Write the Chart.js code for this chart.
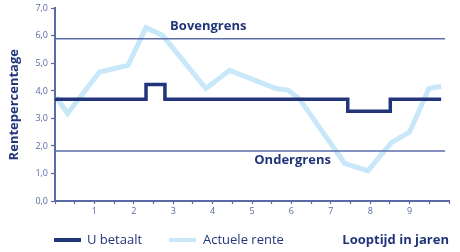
<!DOCTYPE html>
<html>
<head>
<meta charset="utf-8">
<script src="https://cdn.jsdelivr.net/npm/chart.js@4"></script>
<style>
  body { margin: 0; background: #fff; }
  #wrap { width: 460px; height: 252px; }
</style>
</head>
<body>
<div id="wrap"><canvas id="chart" width="460" height="252"></canvas></div>
<script>
// U betaalt (stepped): breakpoints and values
var paidX = [0, 2.31, 2.79, 7.43, 8.51, 9.8];
var paidY = [3.7, 4.23, 3.7, 3.26, 3.7, 3.7];

// Actuele rente
var rateX = [0.03, 0.32, 1.13, 1.85, 2.31, 2.73, 3.83, 4.43, 5.61, 5.91, 6.2, 7.35, 7.94, 8.53, 9.0, 9.49, 9.8];
var rateY = [3.78, 3.18, 4.69, 4.93, 6.30, 6.02, 4.09, 4.75, 4.09, 4.03, 3.72, 1.37, 1.10, 2.11, 2.51, 4.09, 4.17];

// grenzen
var upperLimit = 5.9;
var lowerLimit = 1.82;
var xLabels = ['1', '2', '3', '4', '5', '6', '7', '8', '9'];

var navy = '#22357a';
var lightBlue = '#c8e8fa';
var refColor = '#5d6dab';
var tickColor = '#5a6aa5';
var font = "'Open Sans', sans-serif";

function pts(xs, ys) {
    return xs.map(function (x, i) { return { x: x, y: ys[i] }; });
}

var labelsPlugin = {
    id: 'labels',
    afterDraw: function (chart) {
        var ctx = chart.ctx;
        var xs = chart.scales.x, ys = chart.scales.y;
        ctx.save();
        ctx.fillStyle = navy;
        ctx.font = 'bold 13px ' + font;
        ctx.textAlign = 'center';
        ctx.textBaseline = 'middle';
        ctx.fillText('Bovengrens', xs.getPixelForValue(3.89), ys.getPixelForValue(6.35));
        ctx.fillText('Ondergrens', xs.getPixelForValue(6.03), ys.getPixelForValue(1.49));

        // legend row
        var ly = 240;
        ctx.lineWidth = 4;
        ctx.strokeStyle = navy;
        ctx.beginPath(); ctx.moveTo(54, ly); ctx.lineTo(81, ly); ctx.stroke();
        ctx.strokeStyle = lightBlue;
        ctx.beginPath(); ctx.moveTo(169, ly); ctx.lineTo(196, ly); ctx.stroke();
        ctx.textAlign = 'left';
        ctx.font = '13px ' + font;
        ctx.fillText('U betaalt', 87, ly);
        ctx.fillText('Actuele rente', 203, ly);
        ctx.textAlign = 'right';
        ctx.font = 'bold 13px ' + font;
        ctx.fillText('Looptijd in jaren', 449, ly);
        ctx.restore();
    }
};

var ctx = document.getElementById('chart').getContext('2d');
new Chart(ctx, {
    type: 'line',
    data: {
        datasets: [
            {
                label: 'U betaalt',
                data: pts(paidX, paidY),
                stepped: 'before',
                borderColor: navy,
                borderWidth: 3.5,
                borderJoinStyle: 'miter',
                borderCapStyle: 'butt',
                pointRadius: 0,
                order: 0
            },
            {
                label: 'Bovengrens',
                data: pts([0, 9.9], [upperLimit, upperLimit]),
                borderColor: refColor,
                borderWidth: 1.5,
                pointRadius: 0,
                order: 1
            },
            {
                label: 'Ondergrens',
                data: pts([0, 9.9], [lowerLimit, lowerLimit]),
                borderColor: refColor,
                borderWidth: 1.5,
                pointRadius: 0,
                order: 1
            },
            {
                label: 'Actuele rente',
                data: pts(rateX, rateY),
                borderColor: lightBlue,
                borderWidth: 5,
                tension: 0,
                pointRadius: 0,
                order: 2
            }
        ]
    },
    options: {
        responsive: false,
        animation: false,
        layout: { padding: { top: 8, right: 11, bottom: 31, left: 0 } },
        plugins: { legend: { display: false }, tooltip: { enabled: false } },
        scales: {
            x: {
                type: 'linear',
                min: 0,
                max: 10,
                afterFit: function (s) { s.height = 20; },
                afterBuildTicks: function (s) {
                    var t = [];
                    for (var v = 0; v <= 10; v += 0.5) t.push({ value: v });
                    s.ticks = t;
                },
                grid: {
                    drawOnChartArea: false,
                    color: tickColor,
                    tickLength: 3,
                    tickWidth: 1.2
                },
                border: { color: tickColor, width: 2 },
                ticks: {
                    autoSkip: false,
                    maxRotation: 0,
                    padding: 2,
                    color: tickColor,
                    font: { family: font, size: 9 },
                    callback: function (v) {
                        return Number.isInteger(v) && v >= 1 && v <= 9 ? xLabels[v - 1] : '';
                    }
                }
            },
            y: {
                min: 0,
                max: 7,
                afterFit: function (s) { s.width = 55; },
                grid: {
                    drawOnChartArea: false,
                    color: tickColor,
                    tickLength: 4,
                    tickWidth: 1.2
                },
                border: { color: tickColor, width: 2 },
                ticks: {
                    stepSize: 1,
                    padding: 3,
                    color: tickColor,
                    font: { family: font, size: 9 },
                    callback: function (v) { return v.toFixed(1).replace('.', ','); }
                },
                title: {
                    display: true,
                    text: 'Rentepercentage',
                    color: navy,
                    font: { family: font, size: 13, weight: 'bold' },
                    padding: { top: 6, bottom: 0 }
                }
            }
        }
    },
    plugins: [labelsPlugin]
});
</script>
</body>
</html>
